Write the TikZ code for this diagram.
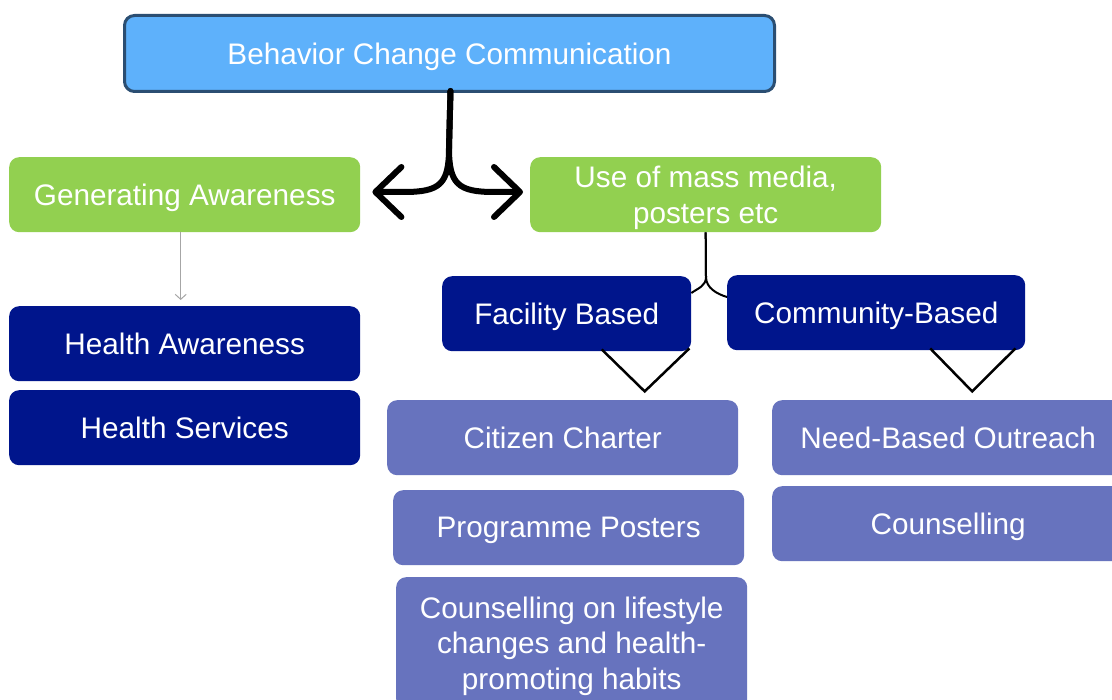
\documentclass[tikz,border=0pt]{standalone}
\usepackage{fontspec}
\setmainfont{Liberation Sans}
\usetikzlibrary{arrows.meta}
\definecolor{topfill}{RGB}{94,177,251}
\definecolor{topline}{RGB}{43,78,114}
\definecolor{grn}{RGB}{146,208,80}
\definecolor{navy}{RGB}{0,21,140}
\definecolor{lav}{RGB}{103,115,190}
\tikzset{
  box/.style={rounded corners=10pt, anchor=north west, text=white, align=center,
    font=\fontsize{29.7}{35.5}\selectfont, inner sep=0pt, text depth=0pt},
  gbox/.style={box, fill=grn, minimum width=351pt, minimum height=75pt},
  nbox/.style={box, fill=navy, minimum height=75pt},
  lbox/.style={box, fill=lav, minimum width=351pt, minimum height=75pt},
  bigfork/.style={line width=6pt, line cap=round, line join=round,
    -{Straight Barb[length=26pt,width=50pt,round]}},
  thinfork/.style={line width=2pt, black},
  vee/.style={line width=2.5pt, black, line join=miter},
  grayarrow/.style={gray!70, line width=1pt, -{Straight Barb[length=5pt,width=11pt]}}
}
\begin{document}
\begin{tikzpicture}[x=1pt,y=-1pt]
\useasboundingbox[fill=white] (0,0) rectangle (1112,700);
% top
\node[box, fill=topfill, draw=topline, line width=3pt, minimum width=650pt, minimum height=76pt] (top) at (123,14) {Behavior Change Communication};
% level 2
\node[gbox] (ga) at (9,157) {Generating Awareness};
\node[gbox] (mm) at (530,157) {Use of mass media,\\posters etc};
% left column
\node[nbox, minimum width=351pt] (ha) at (9,306) {Health Awareness};
\node[nbox, minimum width=351pt] (hs) at (9,390) {Health Services};
% facility/community
\node[nbox, minimum width=249pt] (fb) at (442,276) {Facility Based};
\node[nbox, minimum width=298pt] (cb) at (727,275) {Community-Based};
% facility items
\node[lbox] (cc) at (387,400) {Citizen Charter};
\node[lbox] (pp) at (393,490) {Programme Posters};
\node[lbox, minimum height=132pt] (cl) at (396,577) {Counselling on lifestyle\\changes and health-\\promoting habits};
% community items
\node[lbox, minimum width=352pt] (nb) at (772,400) {Need-Based Outreach};
\node[lbox, minimum width=352pt] (co) at (772,486) {Counselling};
% big fork
\coordinate (fk) at (449,148);
\draw[bigfork] ([xshift=1pt,yshift=2pt]top.south) -- (fk) .. controls +(0,36) and +(36,0) .. (404,192) -- ([xshift=12pt]ga.east |- 0,192);
\draw[bigfork] ([xshift=1pt,yshift=2pt]top.south) -- (fk) .. controls +(0,36) and +(-36,0) .. (494,192) -- ([xshift=-7pt]mm.west |- 0,192);
% gray arrow
\draw[grayarrow] ([xshift=-4pt]ga.south) -- ([xshift=-4pt,yshift=6pt]ha.north);
% small fork
\coordinate (sf) at (706,277);
\draw[thinfork] (mm.south) -- (sf) .. controls +(0,9) and +(7,-5) .. ([yshift=-17pt]fb.north east);
\draw[thinfork] (mm.south) -- (sf) .. controls +(0,11) and +(-10,-3) .. ([yshift=-22pt]cb.north west);
% vees
\draw[vee] ([xshift=35pt,yshift=2pt]fb.south) -- ([xshift=78pt,yshift=-40pt]fb.south) -- ([xshift=-2pt,yshift=3pt]fb.south east);
\draw[vee] ([xshift=54pt,yshift=2pt]cb.south) -- ([xshift=96pt,yshift=-41pt]cb.south) -- ([xshift=-10pt,yshift=2pt]cb.south east);
\end{tikzpicture}
\end{document}
